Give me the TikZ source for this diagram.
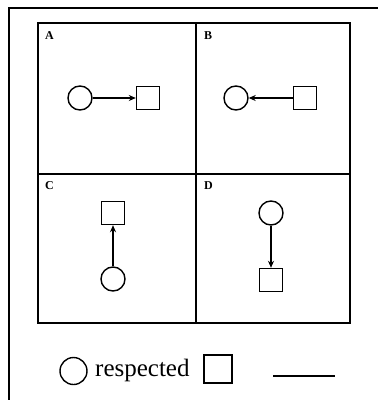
\documentclass[tikz,border=0pt]{standalone}
\usepackage{fontspec}
\setmainfont{Liberation Serif}
\usetikzlibrary{arrows.meta}
\begin{document}
\begin{tikzpicture}[x=1pt,y=-1pt,
  frame/.style={line width=1.6pt},
  cell/.style={line width=1.6pt},
  circ/.style={draw,circle,line width=1.4pt,minimum size=24pt,inner sep=0pt},
  sq/.style={draw,rectangle,line width=1.4pt,minimum size=23pt,inner sep=0pt},
  lab/.style={font=\bfseries\fontsize{12}{12}\selectfont,anchor=north west,inner sep=0pt},
  conn/.style={line width=1.3pt,-{Stealth[length=7pt,width=6pt]}}]
\useasboundingbox (0,0) rectangle (378,400);
% outer frame (partly cut off)
\draw[frame] (9,402) -- (9,8) -- (380,8);
% grid
\draw[cell] (38,23) rectangle (350,323);
\draw[cell] (196,23) -- (196,323);
\draw[cell] (38,174) -- (350,174);
% labels
\node[lab] (la) at (45,31) {A};
\node[lab] (lb) at (204,31) {B};
\node[lab] (lc) at (45,181) {C};
\node[lab] (ld) at (204,181) {D};
% A
\node[circ] (ca) at (80,98) {};
\node[sq] (sa) at (148,98) {};
\draw[conn] (ca) -- (sa);
% B
\node[circ] (cb) at (236,98) {};
\node[sq] (sb) at (305,98) {};
\draw[conn] (sb) -- (cb);
% C
\node[sq] (sc) at (113,213) {};
\node[circ] (cc) at (113,279) {};
\draw[conn] (cc) -- (sc);
% D
\node[circ] (cd) at (271,213) {};
\node[sq] (sd) at (271,280) {};
\draw[conn] (cd) -- (sd);
% legend
\node[circ,minimum size=27pt] (lcirc) at (73.5,371) {};
\node[anchor=west,inner sep=0pt,font=\fontsize{25}{25}\selectfont] (ltext) at (95,370) {respected};
\node[sq,minimum size=28pt] (lsq) at (218,369) {};
\coordinate (l1) at (273,376);
\coordinate (l2) at (335,376);
\draw[line width=1.4pt] (l1) -- (l2);
\end{tikzpicture}
\end{document}
